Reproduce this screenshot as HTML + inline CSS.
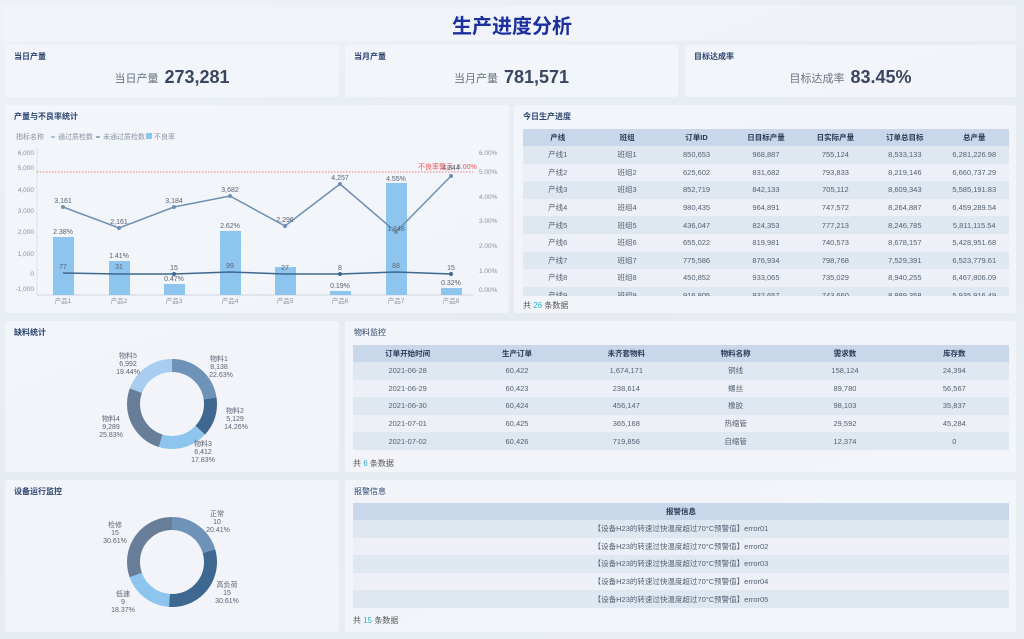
<!DOCTYPE html>
<html><head><meta charset="utf-8"><style>
*{margin:0;padding:0;box-sizing:border-box}
body{width:1024px;height:639px;overflow:hidden;background:linear-gradient(160deg,#eef2f7 0%,#e6ebf2 50%,#eaeef4 100%);font-family:"Liberation Sans","Noto Sans CJK SC",sans-serif;position:relative;color:#4a5568}
.p{position:absolute;background:rgba(243,246,250,0.85);border-radius:3px}
.t{position:absolute;left:9px;top:6px;font-size:8px;font-weight:bold;color:#2c4470}
.kv{position:absolute;top:22px;width:100%;text-align:center;font-size:11px;color:#6b7280}
.kv b{font-size:18px;color:#3a4660;font-weight:bold;margin-left:6px;vertical-align:-1px}
table{position:absolute;border-collapse:collapse;font-size:7.5px;color:#555f70;table-layout:fixed}
th{background:#c8d8ea;color:#2b3a55;height:17px;font-weight:bold}
td{height:17.6px;text-align:center}
tr:nth-child(odd) td{background:#edf1f7}
tr:nth-child(even) td{background:#dfe7f1}
.f{position:absolute;font-size:8px;color:#555}
.f span{color:#2bb0c8}
</style></head><body>
<div class="p" style="left:3px;top:5px;width:1013px;height:36px;background:rgba(243,246,250,0.6)"></div>
<div style="position:absolute;left:0;top:10px;width:1024px;text-align:center;font-size:20px;font-weight:bold;color:#1b2f9e">生产进度分析</div>

<div class="p" style="left:5px;top:45px;width:334px;height:52px"><div class="t">当日产量</div><div class="kv">当日产量<b>273,281</b></div></div>
<div class="p" style="left:345px;top:45px;width:333px;height:52px"><div class="t">当月产量</div><div class="kv">当月产量<b>781,571</b></div></div>
<div class="p" style="left:685px;top:45px;width:331px;height:52px"><div class="t">目标达成率</div><div class="kv">目标达成率<b>83.45%</b></div></div>

<div class="p" style="left:5px;top:105px;width:504px;height:208px"><div class="t">产量与不良率统计</div></div>
<svg style="position:absolute;left:0;top:0" width="512" height="320" font-family="Liberation Sans,Noto Sans CJK SC,sans-serif">
<g font-size="7" fill="#8a93a3">
<text x="16" y="139">指标名称</text>
<line x1="51" y1="137" x2="55" y2="137" stroke="#6f8fb3"/><text x="58" y="139">通过质检数</text>
<line x1="96" y1="137" x2="100" y2="137" stroke="#3e6890"/><text x="103" y="139">未通过质检数</text>
<rect x="146" y="133" width="6" height="6" fill="#8ec5ef"/><text x="154" y="139">不良率</text>
</g>
<g stroke="#e0e5ec" stroke-dasharray="2,2" stroke-width="0.6">
<line x1="37" y1="152" x2="473" y2="152"/><line x1="37" y1="171" x2="473" y2="171"/><line x1="37" y1="196" x2="473" y2="196"/><line x1="37" y1="220" x2="473" y2="220"/><line x1="37" y1="245" x2="473" y2="245"/><line x1="37" y1="270" x2="473" y2="270"/>
</g>
<line x1="37" y1="148" x2="37" y2="295" stroke="#dde2ea"/>
<line x1="37" y1="295" x2="473" y2="295" stroke="#cfd6df"/>
<g font-size="6.5" fill="#8a93a3" text-anchor="end">
<text x="34" y="155">6,000</text><text x="34" y="170">5,000</text><text x="34" y="192">4,000</text><text x="34" y="213">3,000</text><text x="34" y="234">2,000</text><text x="34" y="256">1,000</text><text x="34" y="276">0</text><text x="34" y="291">-1,000</text>
</g>
<g font-size="6.5" fill="#8a93a3">
<text x="479" y="155">6.00%</text><text x="479" y="174">5.00%</text><text x="479" y="199">4.00%</text><text x="479" y="223">3.00%</text><text x="479" y="248">2.00%</text><text x="479" y="273">1.00%</text><text x="479" y="292">0.00%</text>
</g>
<g fill="#8ec5ef">
<rect x="53" y="237" width="21" height="58"/><rect x="109" y="261" width="21" height="34"/><rect x="164" y="284" width="21" height="11"/><rect x="220" y="231" width="21" height="64"/><rect x="275" y="267" width="21" height="28"/><rect x="330" y="291" width="21" height="4"/><rect x="386" y="183" width="21" height="112"/><rect x="441" y="288" width="21" height="7"/>
</g>
<line x1="37" y1="172" x2="473" y2="172" stroke="#f08080" stroke-dasharray="1.5,1.5"/>
<text x="418" y="169" font-size="7" fill="#f05050">不良率警示: 5.00%</text>
<polyline fill="none" stroke="#6f8fb3" stroke-width="1.5" points="63,207 119,228 174,207 230,196 285,226 340,184 396,232 451,176"/>
<g fill="#6f8fb3"><circle cx="63" cy="207" r="2"/><circle cx="119" cy="228" r="2"/><circle cx="174" cy="207" r="2"/><circle cx="230" cy="196" r="2"/><circle cx="285" cy="226" r="2"/><circle cx="340" cy="184" r="2"/><circle cx="396" cy="232" r="2"/><circle cx="451" cy="176" r="2"/></g>
<polyline fill="none" stroke="#3e6890" stroke-width="1.5" points="63,273 119,274 174,274 230,272 285,274 340,274 396,272 451,274"/>
<g fill="#3e6890"><circle cx="174" cy="274" r="2"/><circle cx="340" cy="274" r="2"/><circle cx="451" cy="274" r="2"/></g>
<g font-size="7" fill="#5a6374" text-anchor="middle">
<text x="63" y="203">3,161</text><text x="119" y="224">2,161</text><text x="174" y="203">3,184</text><text x="230" y="192">3,682</text><text x="285" y="222">2,296</text><text x="340" y="180">4,257</text><text x="396" y="231">1,848</text><text x="451" y="170">4,844</text>
<text x="63" y="234">2.38%</text><text x="119" y="258">1.41%</text><text x="174" y="281">0.47%</text><text x="230" y="228">2.62%</text><text x="340" y="288">0.19%</text><text x="396" y="181">4.55%</text><text x="451" y="285">0.32%</text>
<text x="63" y="269">77</text><text x="119" y="269">31</text><text x="174" y="270">15</text><text x="230" y="268">99</text><text x="285" y="270">27</text><text x="340" y="270">8</text><text x="396" y="268">88</text><text x="451" y="270">15</text>
</g>
<g font-size="6.5" fill="#8a93a3" text-anchor="middle">
<text x="63" y="303">产品1</text><text x="119" y="303">产品2</text><text x="174" y="303">产品3</text><text x="230" y="303">产品4</text><text x="285" y="303">产品5</text><text x="340" y="303">产品6</text><text x="396" y="303">产品7</text><text x="451" y="303">产品8</text>
</g>
</svg>

<div class="p" style="left:514px;top:105px;width:502px;height:208px"><div class="t">今日生产进度</div>
<div style="position:absolute;left:9px;top:24px;width:486px;height:167px;overflow:hidden">
<table style="left:0;top:0;width:486px">
<tr><th>产线</th><th>班组</th><th>订单ID</th><th>日目标产量</th><th>日实际产量</th><th>订单总目标</th><th>总产量</th></tr>
<tr><td>产线1</td><td>班组1</td><td>850,653</td><td>968,887</td><td>755,124</td><td>8,533,133</td><td>6,281,226.98</td></tr>
<tr><td>产线2</td><td>班组2</td><td>625,602</td><td>831,682</td><td>793,833</td><td>8,219,146</td><td>6,660,737.29</td></tr>
<tr><td>产线3</td><td>班组3</td><td>852,719</td><td>842,133</td><td>705,112</td><td>8,609,343</td><td>5,585,191.83</td></tr>
<tr><td>产线4</td><td>班组4</td><td>980,435</td><td>964,891</td><td>747,572</td><td>8,264,887</td><td>6,459,289.54</td></tr>
<tr><td>产线5</td><td>班组5</td><td>436,047</td><td>824,353</td><td>777,213</td><td>8,246,785</td><td>5,811,115.54</td></tr>
<tr><td>产线6</td><td>班组6</td><td>655,022</td><td>819,981</td><td>740,573</td><td>8,678,157</td><td>5,428,951.68</td></tr>
<tr><td>产线7</td><td>班组7</td><td>775,586</td><td>876,934</td><td>798,768</td><td>7,529,391</td><td>6,523,779.61</td></tr>
<tr><td>产线8</td><td>班组8</td><td>450,852</td><td>933,065</td><td>735,029</td><td>8,940,255</td><td>6,467,806.09</td></tr>
<tr><td>产线9</td><td>班组9</td><td>916,805</td><td>932,657</td><td>743,660</td><td>8,889,358</td><td>5,935,916.49</td></tr>
</table></div>
<div class="f" style="left:9px;top:195px">共 <span>26</span> 条数据</div></div>

<div class="p" style="left:5px;top:321px;width:334px;height:151px"><div class="t">缺料统计</div></div>
<div class="p" style="left:5px;top:480px;width:334px;height:152px"><div class="t">设备运行监控</div></div>
<svg style="position:absolute;left:0;top:320px" width="340" height="319" font-family="Liberation Sans,Noto Sans CJK SC,sans-serif">
<g transform="translate(172,84) rotate(-90)" fill="none" stroke-width="13">
<circle r="38.5" stroke="#6f93b8" stroke-dasharray="54.7 300" stroke-dashoffset="0"/>
<circle r="38.5" stroke="#3e6890" stroke-dasharray="34.5 300" stroke-dashoffset="-54.7"/>
<circle r="38.5" stroke="#8ec5ef" stroke-dasharray="43.1 300" stroke-dashoffset="-89.2"/>
<circle r="38.5" stroke="#687e98" stroke-dasharray="62.5 300" stroke-dashoffset="-132.3"/>
<circle r="38.5" stroke="#a8cdf0" stroke-dasharray="47.1 300" stroke-dashoffset="-194.8"/>
</g>
<g transform="translate(172,242) rotate(-90)" fill="none" stroke-width="13">
<circle r="38.5" stroke="#6f93b8" stroke-dasharray="49.4 300" stroke-dashoffset="0"/>
<circle r="38.5" stroke="#3e6890" stroke-dasharray="74.0 300" stroke-dashoffset="-49.4"/>
<circle r="38.5" stroke="#8ec5ef" stroke-dasharray="44.4 300" stroke-dashoffset="-123.4"/>
<circle r="38.5" stroke="#687e98" stroke-dasharray="74.0 300" stroke-dashoffset="-167.8"/>
</g>
<g font-size="7" fill="#5a6374" text-anchor="middle">
<text x="219" y="41">物料1</text><text x="219" y="49">8,138</text><text x="221" y="57">22.63%</text>
<text x="235" y="93">物料2</text><text x="235" y="101">5,129</text><text x="236" y="109">14.26%</text>
<text x="203" y="126">物料3</text><text x="203" y="134">6,412</text><text x="203" y="142">17.83%</text>
<text x="111" y="101">物料4</text><text x="111" y="109">9,289</text><text x="111" y="117">25.83%</text>
<text x="128" y="38">物料5</text><text x="128" y="46">6,992</text><text x="128" y="54">19.44%</text>
<text x="217" y="196">正常</text><text x="217" y="204">10</text><text x="218" y="212">20.41%</text>
<text x="227" y="267">高负荷</text><text x="227" y="275">15</text><text x="227" y="283">30.61%</text>
<text x="123" y="276">低速</text><text x="123" y="284">9</text><text x="123" y="292">18.37%</text>
<text x="115" y="207">检修</text><text x="115" y="215">15</text><text x="115" y="223">30.61%</text>
</g>
</svg>

<div class="p" style="left:345px;top:321px;width:671px;height:151px"><div class="t" style="font-weight:normal">物料监控</div>
<table style="left:8px;top:24px;width:656px">
<tr><th>订单开始时间</th><th>生产订单</th><th>未齐套物料</th><th>物料名称</th><th>需求数</th><th>库存数</th></tr>
<tr><td>2021-06-28</td><td>60,422</td><td>1,674,171</td><td>铜线</td><td>158,124</td><td>24,394</td></tr>
<tr><td>2021-06-29</td><td>60,423</td><td>238,614</td><td>螺丝</td><td>89,780</td><td>56,567</td></tr>
<tr><td>2021-06-30</td><td>60,424</td><td>456,147</td><td>橡胶</td><td>98,103</td><td>35,837</td></tr>
<tr><td>2021-07-01</td><td>60,425</td><td>365,168</td><td>热缩管</td><td>29,592</td><td>45,284</td></tr>
<tr><td>2021-07-02</td><td>60,426</td><td>719,856</td><td>自缩管</td><td>12,374</td><td>0</td></tr>
</table>
<div class="f" style="left:8px;top:137px">共 <span>6</span> 条数据</div></div>

<div class="p" style="left:345px;top:480px;width:671px;height:152px"><div class="t" style="font-weight:normal">报警信息</div>
<table style="left:8px;top:23px;width:656px">
<tr><th>报警信息</th></tr>
<tr><td>【设备H23的转速过快温度超过70°C预警值】error01</td></tr>
<tr><td>【设备H23的转速过快温度超过70°C预警值】error02</td></tr>
<tr><td>【设备H23的转速过快温度超过70°C预警值】error03</td></tr>
<tr><td>【设备H23的转速过快温度超过70°C预警值】error04</td></tr>
<tr><td>【设备H23的转速过快温度超过70°C预警值】error05</td></tr>
</table>
<div class="f" style="left:8px;top:135px">共 <span>15</span> 条数据</div></div>
</body></html>
